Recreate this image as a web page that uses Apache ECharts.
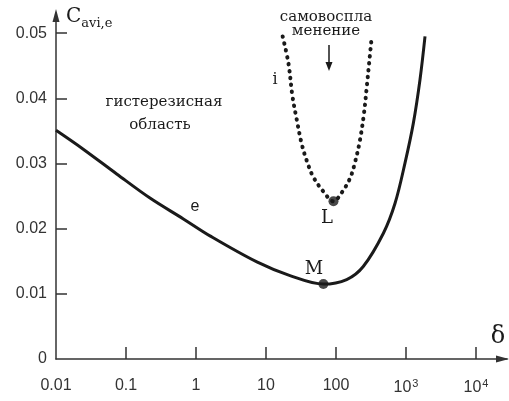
<!DOCTYPE html>
<html lang="ru">
    <head>
        <meta charset="UTF-8" />
        <title>C avi,e vs delta</title>
        <script src="https://cdn.jsdelivr.net/npm/echarts@6/dist/echarts.min.js"></script>
        <style>
            html, body { margin: 0; padding: 0; background: #fff; }
        </style>
    </head>
    <body>
        <div id="main" style="width: 509px; height: 401px"></div>

        <script>
            // curve e (solid), [delta, C]
            const eDelta = [0.01, 0.0245, 0.0736, 0.22, 0.66, 1.58, 7.4, 22, 66, 142, 245, 475, 697, 968, 1273, 1585, 1868];
            const eC = [0.0351, 0.0322, 0.0284, 0.0247, 0.0215, 0.0189, 0.0149, 0.0128, 0.0115, 0.0122, 0.0142, 0.0193, 0.0239, 0.0301, 0.0362, 0.0429, 0.0495];

            // curve i (dotted)
            const iDelta = [17.3, 20.9, 23.8, 27.4, 32.2, 38, 47, 66, 92, 120, 158, 187, 220, 251, 274, 299, 324];
            const iC = [0.0495, 0.0454, 0.0404, 0.0368, 0.0331, 0.0305, 0.028, 0.0257, 0.0242, 0.0255, 0.0277, 0.0302, 0.0336, 0.0377, 0.0416, 0.0457, 0.0495];

            // marked points M and L
            const pointNames = ["M", "L"];
            const pointDelta = [66, 92];
            const pointC = [0.0115, 0.0242];

            // ticks
            const xTicks = [0.1, 1, 10, 100, 1000, 10000];
            const xLabels = [0.01, 0.1, 1, 10, 100, 1000, 10000];
            const yTicks = [0.01, 0.02, 0.03, 0.04, 0.05];
            const yLabels = [0, 0.01, 0.02, 0.03, 0.04, 0.05];

            const zip = (a, b) => a.map((v, k) => [v, b[k]]);

            let myChart = echarts.init(document.getElementById("main"));

            const serif = "DejaVu Serif";
            const ink = "#1a1a1a";

            let options = {
                animation: false,
                grid: { left: 56, right: 2, top: 13, bottom: 42 },
                xAxis: {
                    type: "log",
                    logBase: 10,
                    min: 0.01,
                    max: 27700,
                    axisLine: { lineStyle: { color: "#333", width: 1.5 } },
                    axisTick: {
                        inside: true,
                        length: 12,
                        customValues: xTicks,
                        lineStyle: { color: "#333", width: 1.5 }
                    },
                    axisLabel: {
                        customValues: xLabels,
                        margin: 19,
                        color: "#333",
                        fontFamily: "Liberation Sans",
                        fontSize: 16,
                        formatter: (v) => {
                            const p = Math.round(Math.log10(v));
                            if (p >= 3) return "10{sup|" + p + "}";
                            return p < 0 ? (p === -1 ? "0.1" : "0.01") : String(Math.pow(10, p));
                        },
                        rich: {
                            sup: { fontSize: 11, verticalAlign: "top", padding: [0, 0, 8, 1], color: "#333", fontFamily: "Liberation Sans" }
                        }
                    },
                    splitLine: { show: false }
                },
                yAxis: {
                    type: "value",
                    min: 0,
                    max: 0.0531,
                    axisLine: { lineStyle: { color: "#333", width: 1.5 } },
                    axisTick: {
                        inside: true,
                        length: 11,
                        customValues: yTicks,
                        lineStyle: { color: "#333", width: 1.5 }
                    },
                    axisLabel: {
                        customValues: yLabels,
                        margin: 9,
                        color: "#333",
                        fontFamily: "Liberation Sans",
                        fontSize: 16,
                        formatter: (v) => (v === 0 ? "0" : v.toFixed(2))
                    },
                    splitLine: { show: false }
                },
                series: [
                    {
                        name: "e",
                        type: "line",
                        data: zip(eDelta, eC),
                        smooth: 0.35,
                        showSymbol: false,
                        lineStyle: { color: ink, width: 3 }
                    },
                    {
                        name: "i",
                        type: "line",
                        data: zip(iDelta, iC),
                        smooth: 0.35,
                        showSymbol: false,
                        lineStyle: { color: ink, width: 4, type: [0.5, 6.5], cap: "round" }
                    },
                    {
                        name: "points",
                        type: "scatter",
                        data: zip(pointDelta, pointC),
                        symbolSize: 10,
                        itemStyle: { color: ink }
                    }
                ],
                graphic: [
                    // axis arrowheads
                    { type: "polygon", shape: { points: [[52.5, 22], [59.5, 22], [56, 9]] }, style: { fill: "#333" } },
                    { type: "polygon", shape: { points: [[496, 355.5], [496, 362.5], [509, 359]] }, style: { fill: "#333" } },
                    {
                        type: "text", x: 66, y: 7,
                        style: {
                            text: "{c|C}{s|avi,e}",
                            rich: {
                                c: { fontFamily: serif, fontSize: 20, fill: ink, verticalAlign: "bottom" },
                                s: { fontFamily: serif, fontSize: 13, fill: ink, verticalAlign: "bottom", padding: [0, 0, -3, 0] }
                            }
                        }
                    },
                    { type: "text", x: 498, y: 337, style: { text: "δ", font: "24px " + serif, fill: ink, align: "center", verticalAlign: "middle" } },
                    { type: "text", x: 164, y: 102, style: { text: "гистерезисная", font: "15px " + serif, fill: ink, align: "center", verticalAlign: "middle" } },
                    { type: "text", x: 160, y: 125, style: { text: "область", font: "15px " + serif, fill: ink, align: "center", verticalAlign: "middle" } },
                    { type: "text", x: 326, y: 17, style: { text: "самовоспла", font: "15px " + serif, fill: ink, align: "center", verticalAlign: "middle" } },
                    { type: "text", x: 326, y: 31, style: { text: "менение", font: "15px " + serif, fill: ink, align: "center", verticalAlign: "middle" } },
                    { type: "text", x: 275, y: 80, style: { text: "i", font: "16px " + serif, fill: ink, align: "center", verticalAlign: "middle" } },
                    { type: "text", x: 195, y: 207, style: { text: "e", font: "16px Liberation Sans", fill: ink, align: "center", verticalAlign: "middle" } },
                    { type: "text", x: 327, y: 218, style: { text: pointNames[1], font: "18px " + serif, fill: ink, align: "center", verticalAlign: "middle" } },
                    { type: "text", x: 314, y: 269, style: { text: pointNames[0], font: "18px " + serif, fill: ink, align: "center", verticalAlign: "middle" } },
                    // arrow under "самовоспламенение"
                    { type: "line", shape: { x1: 329, y1: 45, x2: 329, y2: 64 }, style: { stroke: ink, lineWidth: 1.5 } },
                    { type: "polygon", shape: { points: [[325.5, 62], [332.5, 62], [329, 71]] }, style: { fill: ink } }
                ]
            };

            myChart.setOption(options);
        </script>
    </body>
</html>
